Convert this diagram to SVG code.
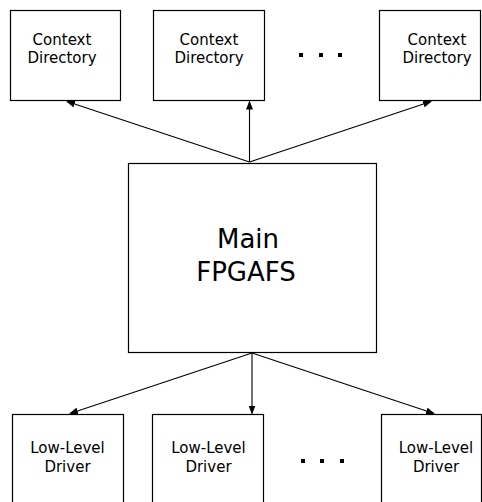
<svg xmlns="http://www.w3.org/2000/svg" width="482" height="502" viewBox="0 0 482 502">
<style>
.box{fill:#fff;stroke:#000;stroke-width:1.2}
.t{font-family:"DejaVu Sans",sans-serif;font-size:15px;text-anchor:middle;fill:#000}
.tm{font-family:"DejaVu Sans",sans-serif;font-size:26px;text-anchor:middle;fill:#000}
.c{stroke:#000;stroke-width:1.1;fill:none;marker-end:url(#ah)}
.dot{fill:#000}
</style>
<defs>
<marker id="ah" markerWidth="9" markerHeight="7" refX="8" refY="3.5" orient="auto" markerUnits="userSpaceOnUse">
<path d="M0,0 L9,3.5 L0,7 z" fill="#000"/>
</marker>
</defs>
<rect width="482" height="502" fill="#fff"/>
<g id="ctx1"><rect class="box" x="10.5" y="10.5" width="110" height="90"/><text class="t" x="62" y="45">Context</text><text class="t" x="62" y="63">Directory</text></g>
<g id="ctx2"><rect class="box" x="153.5" y="10.5" width="111" height="90"/><text class="t" x="209" y="45">Context</text><text class="t" x="209" y="63">Directory</text></g>
<g id="ctx3"><rect class="box" x="379.5" y="10.5" width="101" height="90"/><text class="t" x="437" y="45">Context</text><text class="t" x="437" y="63">Directory</text></g>
<g id="dots-top"><rect class="dot" x="299" y="53" width="4" height="4"/><rect class="dot" x="319" y="53" width="4" height="4"/><rect class="dot" x="338" y="53" width="4" height="4"/></g>
<g id="main"><rect class="box" x="128.5" y="163.5" width="248" height="189"/><text class="tm" x="248" y="248">Main</text><text class="tm" x="246" y="281">FPGAFS</text></g>
<g id="drv1"><rect class="box" x="12.5" y="414.5" width="111" height="100"/><text class="t" x="67.5" y="453">Low-Level</text><text class="t" x="67.5" y="472">Driver</text></g>
<g id="drv2"><rect class="box" x="152.5" y="414.5" width="111" height="100"/><text class="t" x="208.5" y="453">Low-Level</text><text class="t" x="208.5" y="472">Driver</text></g>
<g id="drv3"><rect class="box" x="381.5" y="414.5" width="100" height="100"/><text class="t" x="436" y="453">Low-Level</text><text class="t" x="436" y="472">Driver</text></g>
<g id="dots-bottom"><rect class="dot" x="301" y="459" width="4" height="4"/><rect class="dot" x="320" y="459" width="4" height="4"/><rect class="dot" x="340" y="459" width="4" height="4"/></g>
<g id="connectors">
<line class="c" x1="249.5" y1="162" x2="67" y2="101.5"/>
<line class="c" x1="249.5" y1="162" x2="249.5" y2="101.5"/>
<line class="c" x1="249.5" y1="162" x2="431" y2="101.5"/>
<line class="c" x1="252" y1="353" x2="70" y2="413.5"/>
<line class="c" x1="252" y1="353" x2="252" y2="413.5"/>
<line class="c" x1="252" y1="353" x2="434" y2="413.5"/>
</g>
</svg>
